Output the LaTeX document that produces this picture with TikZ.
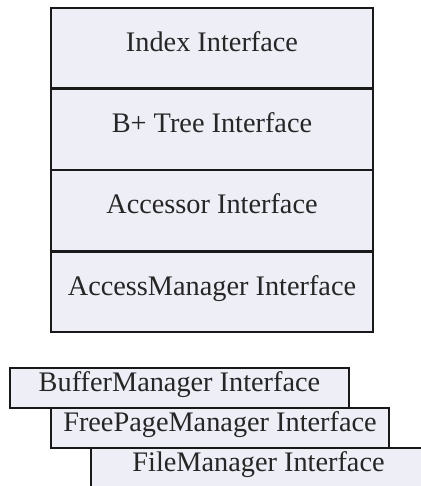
\documentclass[tikz,border=0pt]{standalone}
\usepackage{fontspec}
\setmainfont{Liberation Serif}
\usetikzlibrary{positioning}
\definecolor{boxfill}{RGB}{238,238,247}

\begin{document}
\begin{tikzpicture}[
    x=1pt, y=-1pt,
    layer/.style={rectangle, draw=black!90, line width=1.3pt, fill=boxfill, inner sep=0pt,
        minimum width=322pt, minimum height=80pt, text height=0.66em, text depth=0pt,
        text=black!85, font=\fontsize{28.3}{34}\selectfont},
    strip/.style={layer, minimum height=40pt}
]
    \useasboundingbox (0,0) rectangle (420,486);

    % --- upper stack ---
    \node[layer] (Index)    at (212, 48)      {Index Interface};
    \node[layer] (BTree)    [below=0pt of Index]    {B+ Tree Interface};
    \node[layer] (Accessor) [below=0pt of BTree]    {Accessor Interface};
    \node[layer] (AccMgr)   [below=0pt of Accessor] {AccessManager Interface};

    % --- lower staircase ---
    \node[strip, minimum width=339pt] (BufMgr)  at (179.5, 388) {BufferManager Interface};
    \node[strip, minimum width=338pt] (FreeMgr) at (220, 428)   {FreePageManager Interface};
    \node[strip, minimum width=335pt] (FileMgr) at (258.5, 468) {FileManager Interface};

\end{tikzpicture}
\end{document}
